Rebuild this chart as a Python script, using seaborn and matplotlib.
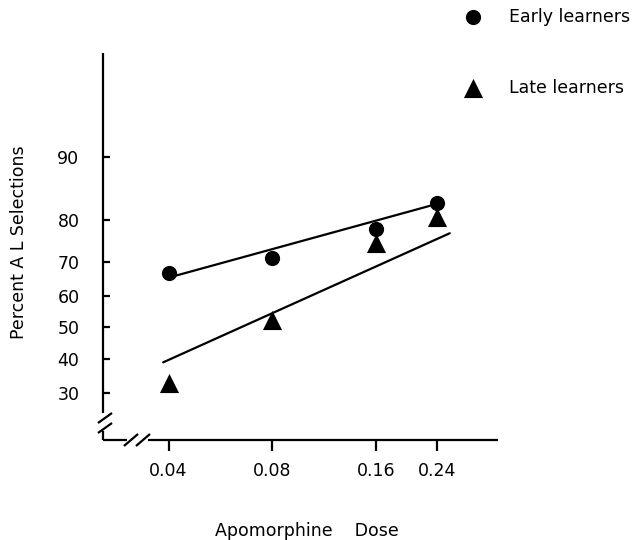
import numpy as np
import pandas as pd
import matplotlib
matplotlib.use("Agg")
import matplotlib.pyplot as plt
import seaborn as sns
from matplotlib.ticker import NullLocator, FixedLocator, FixedFormatter

sns.set_theme(style="white")
plt.rcParams['font.family'] = ['DejaVu Sans']
plt.rcParams['text.color'] = 'black'
plt.rcParams['axes.labelcolor'] = 'black'

# --- data ---
doses = [0.04, 0.08, 0.16, 0.24]
dose_labels = ["0.04", "0.08", "0.16", "0.24"]
early = [66.7, 71.0, 78.0, 83.3]      # percent A L selections
late = [32.7, 52.4, 74.8, 80.5]

# fitted lines (end points as drawn)
early_fit_x = [0.041, 0.2405]
early_fit_y = [65.8, 83.1]
late_fit_x = [0.0386, 0.262]
late_fit_y = [38.9, 77.1]

y_ticks = [30, 40, 50, 60, 70, 80, 90]

FS = 12.5
INK = "black"

fig = plt.figure(figsize=(6.39, 5.40), dpi=100)
ax = fig.add_axes([103/639, 1 - 440/540, 395/639, 387/540])

df_e = pd.DataFrame({"dose": doses, "pct": np.array(early) / 100})
df_l = pd.DataFrame({"dose": doses, "pct": np.array(late) / 100})

sns.lineplot(x=early_fit_x, y=np.array(early_fit_y) / 100, color=INK, lw=1.6, ax=ax, legend=False)
sns.lineplot(x=late_fit_x, y=np.array(late_fit_y) / 100, color=INK, lw=1.6, ax=ax, legend=False)

sns.scatterplot(data=df_e, x="dose", y="pct", marker="o", s=120, color=INK,
                edgecolor=INK, linewidth=0, ax=ax, label="Early learners", zorder=3)
sns.scatterplot(data=df_l, x="dose", y="pct", marker="^", s=190, color=INK,
                edgecolor=INK, linewidth=0, ax=ax, label="Late learners", zorder=3)

# scales: log dose, logit percent
ax.set_xscale("log")
ax.set_yscale("logit")
ax.set_xlim(0.02581, 0.3617)
ax.set_ylim(0.1894, 0.9718)

ax.xaxis.set_major_locator(FixedLocator(doses))
ax.xaxis.set_major_formatter(FixedFormatter(dose_labels))
ax.xaxis.set_minor_locator(NullLocator())
ax.yaxis.set_major_locator(FixedLocator([v / 100 for v in y_ticks]))
ax.yaxis.set_major_formatter(FixedFormatter([str(v) for v in y_ticks]))
ax.yaxis.set_minor_locator(NullLocator())

ax.tick_params(axis="x", direction="out", length=8, width=1.6, pad=8,
               labelsize=FS, colors=INK, bottom=True)
ax.tick_params(axis="y", direction="in", length=5, width=1.6, pad=17,
               labelsize=FS, colors=INK, left=True)

for sp in ax.spines.values():
    sp.set_visible(False)

# hand-drawn axes with break marks (axes coordinates)
kw = dict(transform=ax.transAxes, color=INK, lw=1.6, clip_on=False, solid_capstyle="butt")
ax.plot([0, 0], [0.070, 1.0], **kw)
ax.plot([-0.0127, 0.0228], [0.0439, 0.0698], **kw)
ax.plot([-0.0127, 0.0228], [0.0181, 0.0439], **kw)
ax.plot([0, 0], [0, 0.022], **kw)
ax.plot([0, 0.061], [0, 0], **kw)
ax.plot([0.053, 0.0886], [-0.0155, 0.0155], **kw)
ax.plot([0.0835, 0.119], [-0.0155, 0.0155], **kw)
ax.plot([0.115, 1.0], [0, 0], **kw)

ax.set_xlabel("Apomorphine    Dose", fontsize=FS, color=INK, va="center")
ax.xaxis.set_label_coords(0.516, -0.235)
ax.set_ylabel("Percent A L Selections", fontsize=FS, color=INK, va="center")
ax.yaxis.set_label_coords(-0.213, 0.512)

leg = ax.legend(loc="upper left", bbox_to_anchor=(464/639, 1 - 8/540), bbox_transform=fig.transFigure,
                frameon=False, fontsize=FS, handlelength=1.0, handletextpad=1.6,
                borderpad=0, borderaxespad=0, labelspacing=3.05)
for t in leg.get_texts():
    t.set_color(INK)

fig.savefig("out.png", dpi=100, facecolor="white")
